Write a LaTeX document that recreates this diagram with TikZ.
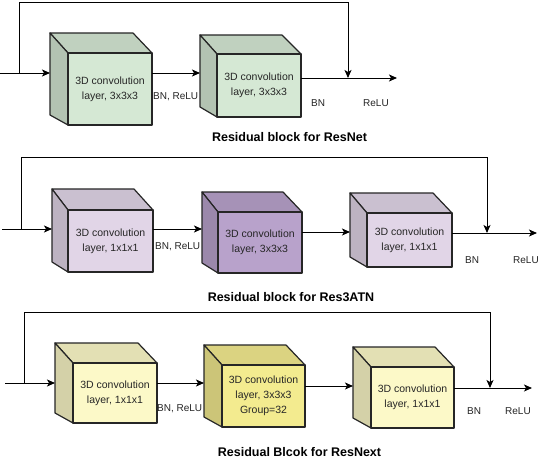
\documentclass[tikz,border=0pt]{standalone}
\usepackage{fontspec}
\setmainfont{Liberation Sans}
\usetikzlibrary{arrows.meta}
\definecolor{gfront}{HTML}{D5E8D4}
\definecolor{pfront}{HTML}{E1D5E7}
\definecolor{dpfront}{HTML}{B8A2CB}
\definecolor{yfront}{HTML}{FCF9C8}
\definecolor{myfront}{HTML}{F3EB8F}
\tikzset{
 conn/.style={line width=1pt, -{Stealth[length=8pt,width=7pt,inset=2pt]}},
 wire/.style={line width=1pt},
 face/.style={draw=black!85, line width=1.2pt, line join=round},
 lbl/.style={font=\fontsize{10}{12}\selectfont, inner sep=0pt, anchor=west, text=black!85},
 ttl/.style={font=\bfseries\fontsize{12.5}{15}\selectfont, inner sep=0pt},
 ctext/.style={font=\fontsize{10.5}{15}\selectfont, align=center, text=black!85}
}
\newcommand\mycube[9]{%
 \path[face, fill=#8!90!black] (#2,#3) -- ({#4-19},#3) -- (#4,{#3+#7}) -- ({#2+#6},{#3+#7}) -- cycle;
 \path[face, fill=#8!84!black] (#2,#3) -- ({#2+#6},{#3+#7}) -- ({#2+#6},#5) -- (#2,{#5-10}) -- cycle;
 \node[face, ctext, fill=#8, anchor=north west, inner sep=0pt, outer sep=0pt,
   minimum width={#4-#2-#6}, minimum height={#5-#3-#7}] (#1) at ({#2+#6},{#3+#7}) {#9};
 \coordinate (#1-b) at (#2,{#3+#7});
}
\begin{document}
\begin{tikzpicture}[x=1pt,y=-1pt]
\useasboundingbox[fill=white] (0,0) rectangle (542,458);
% ---------- Row 1: ResNet ----------
\mycube{a1}{50}{33}{152}{125}{18}{20}{gfront}{3D convolution\\layer, 3x3x3}
\mycube{a2}{200}{35}{301}{117}{17}{19}{gfront}{3D convolution\\layer, 3x3x3}
\coordinate (a-in) at (0,73);
\coordinate (a-k) at (19,73);
\coordinate (a-t) at (348,2);
\coordinate (a-out) at (397,78);
\draw[wire] (a-in) -- (a-k);
\draw[conn] (a-k) -- (a-k -| a1-b);
\draw[conn] (a-k -| a1.east) -- (a-k -| a2-b);
\draw[conn] (a-out -| a2.east) -- (a-out);
\draw[conn] (a-k) |- (a-t) -- (a-t |- a-out);
\node[lbl] (a-l1) at (153,97) {BN, ReLU};
\node[lbl] (a-l2) at (311,103) {BN};
\node[lbl] (a-l3) at (363,103) {ReLU};
\node[ttl] (a-title) at (289.5,137) {Residual block for ResNet};
% ---------- Row 2: Res3ATN ----------
\mycube{b1}{52}{189}{153}{272}{16}{21}{pfront}{3D convolution\\layer, 1x1x1}
\mycube{b2}{202}{192}{302}{273}{16}{20}{dpfront}{3D convolution\\layer, 3x3x3}
\mycube{b3}{350}{193}{452}{267}{17}{20}{pfront}{3D convolution\\layer, 1x1x1}
\coordinate (b-in) at (2,229);
\coordinate (b-k) at (21,229);
\coordinate (b-m) at (0,232);
\coordinate (b-t) at (487,157);
\coordinate (b-out) at (537,233);
\draw[wire] (b-in) -- (b-k);
\draw[conn] (b-k) -- (b-k -| b1-b);
\draw[conn] (b-k -| b1.east) -- (b-k -| b2-b);
\draw[conn] (b-m -| b2.east) -- (b-m -| b3-b);
\draw[conn] (b-out -| b3.east) -- (b-out);
\draw[conn] (b-k) |- (b-t) -- (b-t |- b-out);
\node[lbl] (b-l1) at (155,247) {BN, ReLU};
\node[lbl] (b-l2) at (465,260) {BN};
\node[lbl] (b-l3) at (513,260) {ReLU};
\node[ttl] (b-title) at (291,297) {Residual block for Res3ATN};
% ---------- Row 3: ResNext ----------
\mycube{c1}{55}{343}{157}{423}{18}{20}{yfront}{3D convolution\\layer, 1x1x1}
\mycube{c2}{204}{345}{305}{427}{18}{20}{myfront}{3D convolution\\layer, 3x3x3\\Group=32}
\mycube{c3}{353}{347}{454}{428}{18}{20}{yfront}{3D convolution\\layer, 1x1x1}
\coordinate (c-in) at (5,383);
\coordinate (c-k) at (24,383);
\coordinate (c-m) at (0,386);
\coordinate (c-t) at (490,312);
\coordinate (c-out) at (532,388);
\draw[wire] (c-in) -- (c-k);
\draw[conn] (c-k) -- (c-k -| c1-b);
\draw[conn] (c-k -| c1.east) -- (c-k -| c2-b);
\draw[conn] (c-m -| c2.east) -- (c-m -| c3-b);
\draw[conn] (c-out -| c3.east) -- (c-out);
\draw[conn] (c-k) |- (c-t) -- (c-t |- c-out);
\node[lbl] (c-l1) at (157,409) {BN, ReLU};
\node[lbl] (c-l2) at (467,411) {BN};
\node[lbl] (c-l3) at (505,411) {ReLU};
\node[ttl] (c-title) at (299.5,452) {Residual Blcok for ResNext};
\end{tikzpicture}
\end{document}
